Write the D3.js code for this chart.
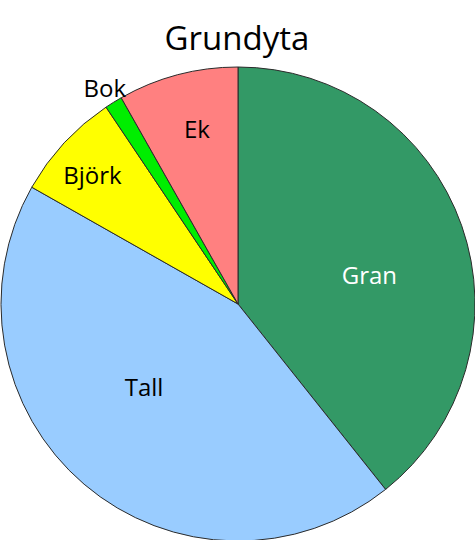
<!DOCTYPE html>
<html>
<head>
<meta charset="utf-8">
<script src="https://cdn.jsdelivr.net/npm/d3@7"></script>
<style>
  html, body { margin: 0; padding: 0; background: #fff; }
  svg { display: block; }
</style>
</head>
<body>
<svg id="chart" width="475" height="540"></svg>
<script>
const title = "Grundyta";
const categories = ["Gran", "Tall", "Björk", "Bok", "Ek"];
const values = [39.3, 43.9, 7.4, 1.2, 8.2];
const colors = ["#339966", "#99CCFF", "#FFFF00", "#00EE00", "#FF8080"];
const labelColors = ["#FFFFFF", "#000000", "#000000", "#000000", "#000000"];
// label placement: fraction along slice angle, fraction of radius
const labelAngleFrac = [0.55, 0.55, 0.45, 0.5, 0.55];
const labelRadiusFrac = [0.567, 0.53, 0.82, 1.07, 0.755];

const W = 475, H = 540;
const cx = 238, cy = 304, R = 237;
const svg = d3.select("#chart");

svg.append("text")
  .attr("x", 237).attr("y", 50)
  .attr("text-anchor", "middle")
  .attr("font-family", "'Open Sans', sans-serif")
  .attr("font-size", 33)
  .attr("fill", "#000")
  .text(title);

const data = categories.map((c, i) => ({ name: c, value: values[i], i }));
const pie = d3.pie().value(d => d.value).sort(null).startAngle(0).endAngle(2 * Math.PI);
const arcs = pie(data);
const arc = d3.arc().innerRadius(0).outerRadius(R);

const g = svg.append("g").attr("transform", `translate(${cx},${cy})`);
g.selectAll("path.slice").data(arcs).enter().append("path")
  .attr("class", "slice")
  .attr("d", arc)
  .attr("fill", d => colors[d.data.i])
  .attr("stroke", "#2b2b2b")
  .attr("stroke-width", 1)
  .attr("stroke-linejoin", "round");

g.selectAll("text.lbl").data(arcs).enter().append("text")
  .attr("class", "lbl")
  .attr("transform", d => {
    const i = d.data.i;
    const a = d.startAngle + (d.endAngle - d.startAngle) * labelAngleFrac[i];
    const r = R * labelRadiusFrac[i];
    return `translate(${r * Math.sin(a)},${-r * Math.cos(a)})`;
  })
  .attr("text-anchor", "middle")
  .attr("dy", "0.36em")
  .attr("font-family", "'Open Sans', sans-serif")
  .attr("font-size", 24)
  .attr("fill", d => labelColors[d.data.i])
  .text(d => d.data.name);
</script>
</body>
</html>
